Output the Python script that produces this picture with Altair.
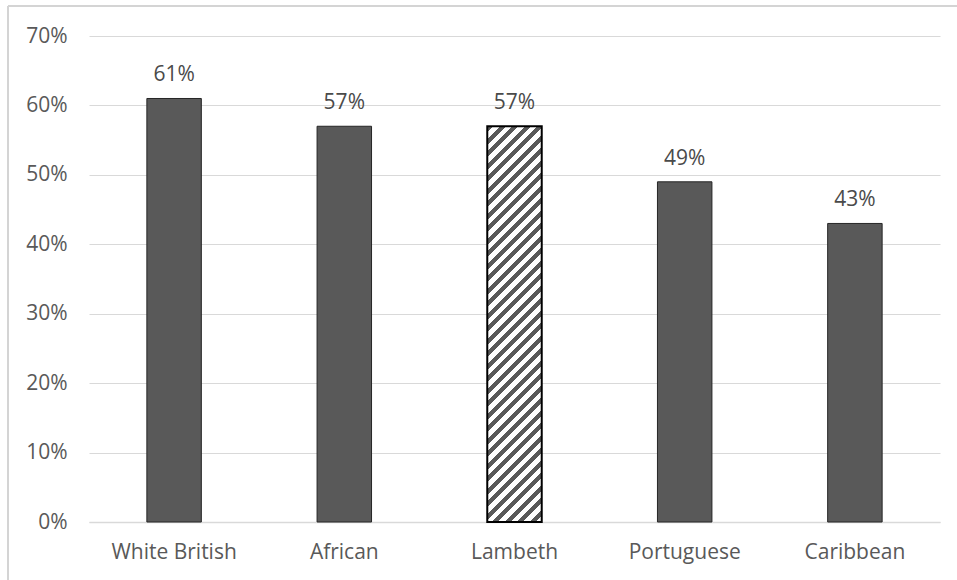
import altair as alt
import pandas as pd

# Share of pupils by ethnic group, with the Lambeth average in the middle
groups = ["White British", "African", "Lambeth", "Portuguese", "Caribbean"]
shares = [0.61, 0.57, 0.57, 0.49, 0.43]
y_ticks = [0.0, 0.1, 0.2, 0.3, 0.4, 0.5, 0.6, 0.7]

df = pd.DataFrame({"group": groups, "share": shares})

W, H = 851, 486
FONT = "Open Sans"
INK = "#595959"
GRID = "#d9d9d9"


def hatch_fill(periods=36, ink=INK, paper="#ffffff", duty=0.5, ratio=54.5 / 395.8):
    """Hard-stop linear gradient that reads as '/' diagonal hatching on a tall bar."""
    s = (1 + ratio) / (1 + ratio * ratio)
    stops = []
    for k in range(periods):
        a = k / periods
        b = (k + duty) / periods
        c = (k + 1) / periods
        stops += [
            {"offset": a, "color": ink},
            {"offset": b, "color": ink},
            {"offset": b, "color": paper},
            {"offset": c, "color": paper},
        ]
    return {"gradient": "linear", "x1": 0, "y1": 0, "x2": s * ratio, "y2": s, "stops": stops}


x_enc = alt.X(
    "group:N",
    sort=groups,
    scale=alt.Scale(paddingInner=0.68, paddingOuter=0.34),
    axis=alt.Axis(
        title=None,
        labelAngle=0,
        labelFont=FONT,
        labelFontSize=21,
        labelColor=INK,
        labelPadding=19,
        ticks=False,
        domainColor=GRID,
        domainWidth=1.5,
    ),
)
y_enc = alt.Y(
    "share:Q",
    scale=alt.Scale(domain=[0, 0.7], nice=False),
    axis=alt.Axis(
        values=y_ticks,
        format=".0%",
        title=None,
        domain=False,
        ticks=False,
        gridColor=GRID,
        gridWidth=1.2,
        labelFont=FONT,
        labelFontSize=21,
        labelColor=INK,
        labelPadding=22,
    ),
)

base = alt.Chart(df)

solid = base.transform_filter(alt.datum.group != "Lambeth").mark_bar(
    color=INK, stroke="#262626", strokeWidth=1
).encode(x=x_enc, y=y_enc)

hatched = base.transform_filter(alt.datum.group == "Lambeth").mark_bar(
    fill=hatch_fill(), stroke="#000000", strokeWidth=2
).encode(x=x_enc, y=y_enc)

labels = base.mark_text(
    dy=-17, baseline="alphabetic", font=FONT, fontSize=21, color="#4a4a4a"
).encode(x=x_enc, y=y_enc, text=alt.Text("share:Q", format=".0%"))

# outer chart frame (top and left edges)
frame_src = alt.Chart(pd.DataFrame({"k": [0]}))
frame_top = frame_src.mark_rule(color="#d4d4d4", strokeWidth=2).encode(
    x=alt.value(-81), x2=alt.value(880), y=alt.value(-30)
)
frame_left = frame_src.mark_rule(color="#d4d4d4", strokeWidth=2).encode(
    x=alt.value(-81), y=alt.value(-30), y2=alt.value(560)
)

chart = (
    alt.layer(solid, hatched, labels, frame_top, frame_left)
    .properties(
        width=W,
        height=H,
        autosize="none",
        padding={"left": 89, "top": 36, "right": 17, "bottom": 58},
        background="#ffffff",
    )
    .configure_view(stroke=None)
)

chart.save("out.html", embed_options={"renderer": "svg", "actions": False})
